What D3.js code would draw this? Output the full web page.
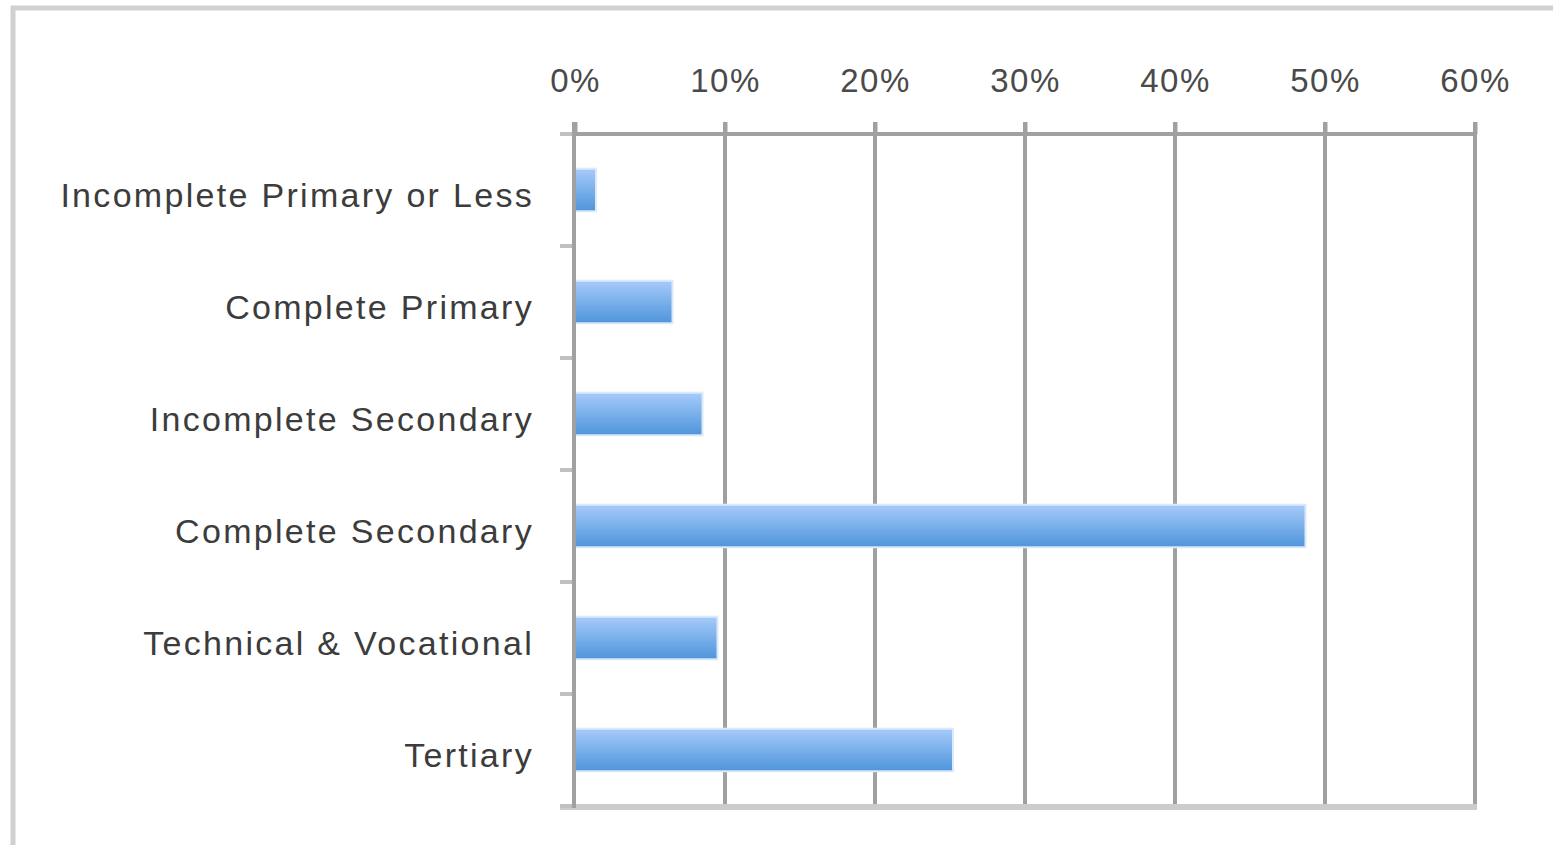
<!DOCTYPE html>
<html><head><meta charset="utf-8">
<script src="https://cdn.jsdelivr.net/npm/d3@7"></script>
<style>body{margin:0;background:#fff;overflow:hidden}svg{display:block}</style>
</head><body>
<script>
const categories = ["Incomplete Primary or Less","Complete Primary","Incomplete Secondary","Complete Secondary","Technical & Vocational","Tertiary"];
const values = [0.014, 0.065, 0.085, 0.487, 0.095, 0.252];
const tickValues = [0,0.1,0.2,0.3,0.4,0.5,0.6];

const W=1553,H=845;
const svg=d3.select("body").append("svg").attr("width",W).attr("height",H);
const defs=svg.append("defs");
const g=defs.append("linearGradient").attr("id","bg").attr("x1",0).attr("x2",0).attr("y1",0).attr("y2",1);
g.append("stop").attr("offset","0%").attr("stop-color","#a6cbfb");
g.append("stop").attr("offset","100%").attr("stop-color","#4f94da");

// outer frame
svg.append("rect").attr("x",13).attr("y",8).attr("width",W).attr("height",H)
  .attr("fill","none").attr("stroke","#d0d0d0").attr("stroke-width",5);

const x=d3.scaleLinear().domain([0,0.6]).range([575,1475]);
const y=d3.scaleBand().domain(categories).range([134,806]).paddingInner(0.62).paddingOuter(0.31);

// gridlines
svg.append("g").selectAll("line").data(tickValues.slice(1)).join("line")
  .attr("x1",d=>x(d)).attr("x2",d=>x(d)).attr("y1",122).attr("y2",806)
  .attr("stroke","#a0a0a0").attr("stroke-width",4);

// top axis
const xa=svg.append("g").attr("transform","translate(0,134)")
  .call(d3.axisTop(x).tickValues(tickValues).tickFormat(d3.format(".0%")).tickSize(12).tickPadding(30));
xa.select(".domain").remove();
xa.selectAll("line").attr("stroke","#a0a0a0").attr("stroke-width",4);
xa.selectAll("text").attr("font-family","Liberation Sans, Arial, sans-serif").attr("font-size",33)
  .attr("letter-spacing","1.5px").attr("fill","#4a4a4a");
svg.append("line").attr("x1",560).attr("x2",1477).attr("y1",134).attr("y2",134).attr("stroke","#a0a0a0").attr("stroke-width",4);
// bottom line
svg.append("line").attr("x1",560).attr("x2",1477).attr("y1",807).attr("y2",807).attr("stroke","#cccccc").attr("stroke-width",6);

// bars
svg.append("g").selectAll("rect").data(categories).join("rect")
  .attr("x",x(0)).attr("y",d=>y(d)).attr("height",y.bandwidth())
  .attr("width",(d,i)=>x(values[i])-x(0))
  .attr("fill","url(#bg)").attr("stroke","#dbe9fb").attr("stroke-width",2);

// left axis
const ya=svg.append("g").attr("transform","translate(574,0)")
  .call(d3.axisLeft(y).tickSize(0).tickPadding(40));
ya.select(".domain").remove();
ya.selectAll("text").attr("font-family","Liberation Sans, Arial, sans-serif").attr("font-size",34)
  .attr("letter-spacing","2.3px").attr("dy","0.5em").attr("fill","#3c3c3c");
const bounds=d3.range(categories.length+1).map(i=>134+i*(806-134)/categories.length);
svg.append("g").selectAll("line").data(bounds).join("line")
  .attr("x1",560).attr("x2",574).attr("y1",d=>d).attr("y2",d=>d)
  .attr("stroke","#c0c0c0").attr("stroke-width",4);
svg.append("line").attr("x1",574).attr("x2",574).attr("y1",122).attr("y2",808).attr("stroke","#a0a0a0").attr("stroke-width",4);
</script>
</body></html>
